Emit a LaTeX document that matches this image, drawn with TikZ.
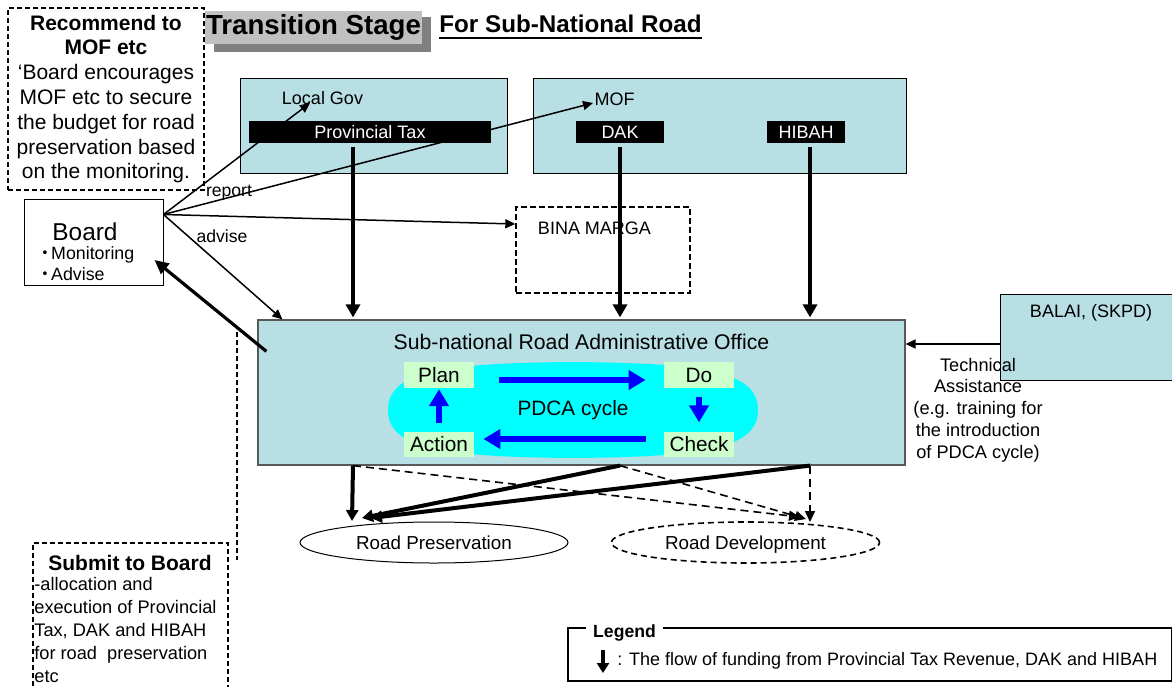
\documentclass[tikz,border=0pt]{standalone}
\usepackage{fontspec}
\setmainfont{Liberation Sans}
\newfontfamily\jpfont{Noto Sans CJK JP}
\usetikzlibrary{arrows.meta,shapes.geometric,calc}
\definecolor{officebg}{HTML}{B8DFE3}
\definecolor{pdcabg}{HTML}{00FFFF}
\definecolor{stepbg}{HTML}{CCFFCC}
\definecolor{titlebg}{HTML}{C0C0C0}
\definecolor{titleshade}{HTML}{808080}
\newcommand\boldline[1]{\setbox0\hbox{#1}\rlap{\rule[-3.6pt]{\wd0}{1pt}}\box0}

\begin{document}
\begin{tikzpicture}[x=0.5pt, y=-0.5pt,
  txt/.style={inner sep=0pt, font=\fontsize{9}{11}\selectfont},
  orgbox/.style={draw, fill=officebg, line width=0.5pt, inner sep=0pt},
  fundbar/.style={fill=black, text=white, inner sep=0pt, minimum height=11pt,
                  font=\fontsize{9}{11}\selectfont},
  notebox/.style={draw, line width=0.9pt, dash pattern=on 2.5pt off 1.5pt, inner sep=0pt},
  stepbox/.style={fill=stepbg, inner sep=0pt, minimum width=35pt, minimum height=12.75pt,
                  font=\fontsize{10.4}{12}\selectfont},
  road/.style={draw, ellipse, minimum width=134pt, minimum height=20.5pt, inner sep=0pt,
               text depth=0pt, font=\fontsize{9.4}{11}\selectfont},
  fund/.style={line width=2pt, -{Triangle[length=6.5pt,width=7pt]}},
  flow/.style={line width=0.75pt, -{Triangle[length=5pt,width=4.5pt]}},
  dflow/.style={line width=0.8pt, dash pattern=on 4pt off 2.5pt, -{Triangle[length=5.5pt,width=5pt]}},
  cyc/.style={draw=blue, line width=3.3pt, -{Triangle[length=8.5pt,width=9.5pt]}},
]
\useasboundingbox (0,0) rectangle (1172,686);

% title
\node[fill=titleshade, minimum width=108.5pt, minimum height=17.5pt, inner sep=0pt] (shade) at (322.5,34.5) {};
\node[fill=titlebg, minimum width=108.5pt, minimum height=16.5pt, inner sep=0pt,
      font=\fontsize{13.8}{15}\selectfont\bfseries] (title) at (313.5,27) {Transition Stage};
\node[inner sep=0pt, font=\fontsize{12.1}{14}\selectfont\bfseries] (subtitle) at (570.5,27) {\boldline{For Sub-National Road}};

% notes
\node[notebox, minimum width=98pt, minimum height=91pt, align=center,
      font=\fontsize{10.5}{12.4}\selectfont] (recommend) at (106,99)
  {\textbf{Recommend to}\\\textbf{MOF etc}\\‘Board encourages\\MOF etc to secure\\the budget for road\\preservation based\\on the monitoring.};
\node[notebox, minimum width=97.5pt, minimum height=76pt] (submit) at (130.5,619) {};
\node[inner sep=0pt, font=\fontsize{10.5}{12}\selectfont\bfseries] (submittitle) at (130,563) {Submit to Board};
\node[txt, anchor=west, align=left, font=\fontsize{9.1}{11.5}\selectfont] (submitlist) at (34,630)
  {-allocation and\\execution of Provincial\\Tax, DAK and HIBAH\\for road\ \ preservation\\etc};

% board
\node[draw, line width=0.5pt, minimum width=69.5pt, minimum height=43pt, inner sep=0pt] (board) at (93.5,242) {};
\node[inner sep=0pt, font=\fontsize{12.2}{14}\selectfont] (boardname) at (85,232) {Board};
\node[txt, anchor=west, align=left, font=\fontsize{8.9}{10.5}\selectfont] (boardtasks) at (36,263.5)
  {{\jpfont ・}\kern-1.5pt Monitoring\\{\jpfont ・}\kern-1.5pt Advise};

% funding sources
\node[orgbox, minimum width=133.5pt, minimum height=47.5pt] (localgovbox) at (373.5,125.5) {};
\node[orgbox, minimum width=186.5pt, minimum height=47.5pt] (mofbox) at (719.5,125.5) {};
\node[txt] (localgov) at (322.5,98) {Local Gov};
\node[txt] (mof) at (614.5,99) {MOF};
\node[fundbar, minimum width=121pt] (provtax) at (370,132) {Provincial Tax};
\node[fundbar, minimum width=44pt] (dak) at (620,132) {DAK};
\node[fundbar, minimum width=39pt] (hibah) at (806,132) {HIBAH};

\node[notebox, line width=0.7pt, dash pattern=on 3pt off 1.5pt, minimum width=87pt, minimum height=43pt] (binabox) at (603,250) {};
\node[txt] (bina) at (594.5,228) {BINA MARGA};

% office and PDCA
\node[draw=black!65, fill=officebg, line width=0.6pt, minimum width=323.5pt, minimum height=72.5pt, inner sep=0pt] (office) at (581.5,392.5) {};
\node[inner sep=0pt, font=\fontsize{10.6}{12}\selectfont] (officename) at (581.5,342) {Sub-national Road Administrative Office};
\fill[pdcabg] (388,410) .. controls (388,372) and (440,363) .. (573,362)
  .. controls (706,363) and (758,372) .. (758,410)
  .. controls (758,448) and (706,457) .. (573,458)
  .. controls (440,457) and (388,448) .. (388,410);
\node[stepbox] (plan) at (439,375) {Plan};
\node[stepbox] (do) at (699,375) {Do};
\node[stepbox] (action) at (439,444.5) {Action};
\node[stepbox] (check) at (699,444.5) {Check};
\node[inner sep=0pt, font=\fontsize{10.4}{12}\selectfont] (pdca) at (573,410) {PDCA cycle};

\draw[cyc, shorten <=12.5pt, shorten >=9pt] ([yshift=-2.5pt]plan.east) -- ([yshift=-2.5pt]do.west);
\draw[cyc, shorten <=4.5pt, shorten >=4.5pt] (do) -- (check);
\draw[cyc, shorten <=9pt, shorten >=4.5pt] ([yshift=2.75pt]check.west) -- ([yshift=2.75pt]action.east);
\draw[cyc, shorten <=4pt, shorten >=0.5pt] (action) -- (plan);

% balai
\node[orgbox, minimum width=90pt, minimum height=43pt] (balai) at (1090,337) {};
\node[txt] (balainame) at (1091,313) {BALAI, (SKPD)};
\node[txt, align=center, font=\fontsize{9.1}{10.9}\selectfont] (techassist) at (978,410)
  {Technical\\Assistance\\(e.g. training for\\the introduction\\of PDCA cycle)};
\draw[flow] ([yshift=-3.5pt]balai.west) -- ([yshift=-3.5pt]balai.west -| office.east);

% roads
\node[road, line width=0.5pt] (roadpres) at (434,542.5) {Road Preservation};
\node[road, line width=0.8pt, dash pattern=on 3pt off 2pt] (roaddev) at (745.5,542.5) {Road Development};

% funding flow
\foreach \src/\dx in {provtax/-8.5pt, dak/0pt, hibah/2pt}
  \draw[fund, shorten <=2pt, shorten >=1pt] ([xshift=\dx]\src.south) -- ([xshift=\dx]\src.south |- office.north);

\coordinate (ptfoot) at ([xshift=-8.5pt]provtax.south |- office.south);
\coordinate (dakfoot) at (dak.south |- office.south);
\coordinate (hibahfoot) at ([xshift=2pt]hibah.south |- office.south);
\coordinate (rp1) at (352,521);
\coordinate (rp2) at (362,518);
\coordinate (rp3) at (371,518);
\coordinate (rd1) at (800,517);
\coordinate (rd2) at (806,519);
\coordinate (rd3) at (810,522);

\foreach \a/\b in {ptfoot/rd1, dakfoot/rd2, hibahfoot/rd3}
  \draw[dflow] (\a) -- (\b);
\foreach \a/\b in {ptfoot/rp1, dakfoot/rp2, hibahfoot/rp3}
  \draw[fund, -{Triangle[length=5.5pt,width=6pt]}] (\a) -- (\b);

% board links
\coordinate (boardout) at ([yshift=-8pt]board.north east);
\coordinate (lgtip) at (310,103);
\coordinate (moftip) at (593,103);
\coordinate (binatip) at ([yshift=13pt]binabox.west);
\coordinate (advtip) at ([xshift=12.5pt]office.north west);
\foreach \t in {lgtip, moftip, binatip, advtip}
  \draw[flow] (boardout) -- (\t);
\node[txt, font=\fontsize{8.8}{10}\selectfont] (reportlbl) at (229,193) {report};
\node[txt, font=\fontsize{8.8}{10}\selectfont] (advlbl) at (222,236) {advise};
\draw[line width=1.6pt, -{Triangle[length=7pt,width=6.5pt]}]
  ([xshift=4.5pt,yshift=-16pt]office.north west) -- ([xshift=-4.5pt,yshift=-9pt]board.east);

\coordinate (reporttop) at (237,332);
\coordinate (reportbot) at (237,560);
\draw[line width=0.9pt, dash pattern=on 2.5pt off 1.5pt] (reporttop) -- (reportbot);

% legend
\node[draw, line width=0.6pt, minimum width=302pt, minimum height=26.5pt, inner sep=0pt] (legend) at (870,654.5) {};
\node[fill=white, inner xsep=3.75pt, inner ysep=1pt, font=\fontsize{8.8}{10}\selectfont\bfseries] (legendtitle) at (624.5,633) {Legend};
\coordinate (legtop) at (603,650);
\coordinate (legbot) at (603,673);
\draw[line width=1.6pt, -{Triangle[length=5pt,width=6pt]}] (legtop) -- (legbot);
\node[txt, anchor=west] (legendtext) at (617,661) {: The flow of funding from Provincial Tax Revenue, DAK and HIBAH};

\end{tikzpicture}
\end{document}
